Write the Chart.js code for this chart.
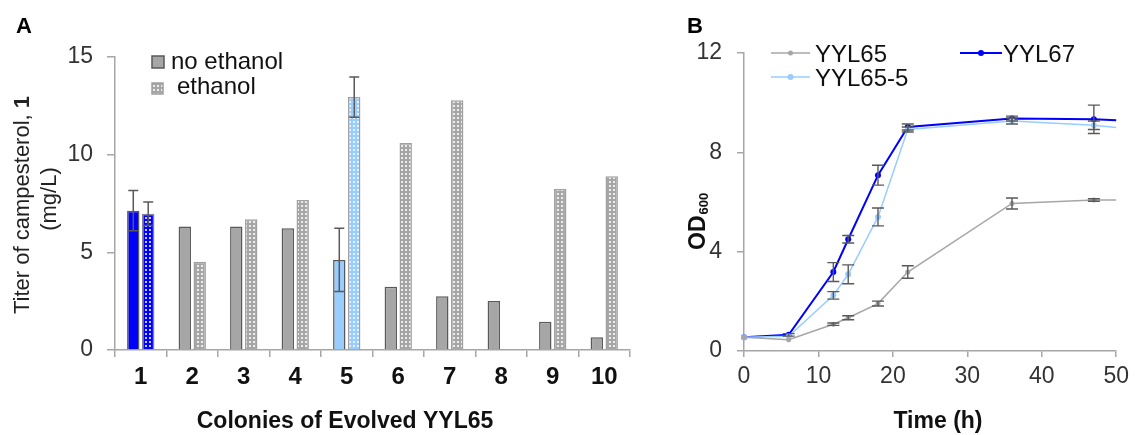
<!DOCTYPE html>
<html><head><meta charset="utf-8">
<script src="https://cdn.jsdelivr.net/npm/chart.js@4.4.1/dist/chart.umd.min.js"></script>
<style>
html,body{margin:0;padding:0;background:#fff;}
#wrap{position:relative;width:1135px;height:435px;overflow:hidden;background:#fff;}
#cA{position:absolute;left:0;top:0;}
#cB{position:absolute;left:660px;top:0;}
</style></head><body>
<div id="wrap"><canvas id="cA" width="660" height="435"></canvas><canvas id="cB" width="475" height="435"></canvas></div>
<script>
// ---------- Panel A data ----------
const colonies = ['1','2','3','4','5','6','7','8','9','10'];
const noEthanol = [7.13, 6.32, 6.32, 6.23, 4.61, 3.24, 2.75, 2.51, 1.45, 0.65];
const ethanol   = [6.98, 4.52, 6.70, 7.68, 12.95, 10.60, 12.78, null, 8.24, 8.90];
const noEthanolErr = [1.03, null, null, null, 1.62, null, null, null, null, null];
const ethanolErr   = [0.60, null, null, null, 1.03, null, null, null, null, null];
const yTicksA = [0, 5, 10, 15];

// ---------- Panel B data ----------
const timeH   = [0, 6, 12, 14, 18, 22, 36, 47, 50];
const yyl65    = [0.55, 0.45, 1.08, 1.34, 1.91, 3.18, 5.94, 6.08, 6.08];
const yyl65Err = [null, null, 0.05, 0.08, 0.10, 0.25, 0.22, 0.05, null];
const yyl67    = [0.55, 0.65, 3.18, 4.50, 7.08, 9.02, 9.36, 9.33, 9.29];
const yyl67Err = [null, 0.05, 0.38, 0.15, 0.40, 0.12, 0.10, 0.57, null];
const yyl655   = [0.55, 0.59, 2.24, 3.09, 5.40, 8.92, 9.26, 9.09, 9.00];
const yyl655Err= [null, null, 0.15, 0.38, 0.36, 0.10, 0.12, 0.17, null];
const yTicksB = [0, 4, 8, 12];
const xTicksB = [0, 10, 20, 30, 40, 50];

const FONT = "'Liberation Sans', Arial, Helvetica, sans-serif";
Chart.defaults.font.family = FONT;
Chart.defaults.color = '#333';

function makePattern(base, dot){
  const c = document.createElement('canvas'); c.width = 4; c.height = 4;
  const g = c.getContext('2d');
  g.fillStyle = base; g.fillRect(0,0,4,4);
  g.fillStyle = dot; g.fillRect(1,1,2,2);
  return g.createPattern(c, 'repeat');
}
const ctxA = document.getElementById('cA').getContext('2d');
const patGray = makePattern('#a6a6a6', '#ececec');
const patBlue = makePattern('#0000ff', '#c8c8ff');
const patLight = makePattern('#99ccff', '#e6f2ff');

const noEthColors = colonies.map((c,i)=> i===0 ? '#0000ff' : (i===4 ? '#99ccff' : '#a6a6a6'));
const ethColors = colonies.map((c,i)=> i===0 ? patBlue : (i===4 ? patLight : patGray));
const noEthBorders = colonies.map((c,i)=> '#595959');
const ethBorders = colonies.map((c,i)=> i===0 ? '#8080a0' : '#a0a0a0');

const errorBars = {
  id: 'errorBars',
  afterDatasetsDraw(chart, args, opts){
    const ctx = chart.ctx;
    ctx.save();
    ctx.strokeStyle = opts.color || '#595959';
    ctx.lineWidth = opts.width || 1.5;
    const cap = opts.cap || 5;
    chart.data.datasets.forEach((ds, i)=>{
      if(!ds.errors) return;
      const meta = chart.getDatasetMeta(i);
      const ys = chart.scales[meta.yAxisID];
      ds.errors.forEach((e, j)=>{
        const raw = ds.data[j];
        const v = (raw !== null && typeof raw === 'object') ? raw.y : raw;
        if(e === null || v === null || v === undefined) return;
        const el = meta.data[j]; if(!el) return;
        const x = el.x;
        const y1 = ys.getPixelForValue(v + e), y2 = ys.getPixelForValue(v - e);
        ctx.beginPath();
        ctx.moveTo(x, y1); ctx.lineTo(x, y2);
        ctx.moveTo(x-cap, y1); ctx.lineTo(x+cap, y1);
        ctx.moveTo(x-cap, y2); ctx.lineTo(x+cap, y2);
        ctx.stroke();
      });
    });
    ctx.restore();
  }
};

const textA = {
  id: 'textA',
  afterDraw(chart){
    const ctx = chart.ctx;
    ctx.save();
    ctx.fillStyle = '#000';
    ctx.textBaseline = 'alphabetic';
    // panel label
    ctx.font = "bold 22px " + FONT; ctx.textAlign = 'left';
    ctx.fillText('A', 16, 33);
    // x title
    ctx.font = "bold 23px " + FONT; ctx.textAlign = 'center';
    ctx.fillStyle = '#111';
    ctx.fillText('Colonies of Evolved YYL65', 345, 428);
    // y title (rotated)
    ctx.fillStyle = '#222';
    const p1 = 'Titer of campesterol, ', p2 = '1';
    ctx.font = "22px " + FONT; const w1 = ctx.measureText(p1).width;
    ctx.font = "bold 22px " + FONT; const w2 = ctx.measureText(p2).width;
    ctx.save();
    ctx.translate(29, 205); ctx.rotate(-Math.PI/2);
    ctx.textAlign = 'left';
    ctx.font = "22px " + FONT; ctx.fillText(p1, -(w1+w2)/2, 0);
    ctx.font = "bold 22px " + FONT; ctx.fillText(p2, -(w1+w2)/2 + w1, 0);
    ctx.restore();
    ctx.save();
    ctx.translate(56, 199); ctx.rotate(-Math.PI/2);
    ctx.textAlign = 'center'; ctx.font = "22px " + FONT;
    ctx.fillText('(mg/L)', 0, 0);
    ctx.restore();
    // legend
    ctx.lineWidth = 1.5;
    ctx.fillStyle = '#a6a6a6'; ctx.strokeStyle = '#595959';
    ctx.fillRect(152, 56, 12, 12); ctx.strokeRect(152, 56, 12, 12);
    ctx.fillStyle = patGray; ctx.strokeStyle = '#a0a0a0';
    ctx.fillRect(152, 83, 11, 11); ctx.strokeRect(152, 83, 11, 11);
    ctx.fillStyle = '#111'; ctx.font = "24px " + FONT; ctx.textAlign = 'left';
    ctx.fillText('no ethanol', 171, 69);
    ctx.fillText('ethanol', 177, 94);
    ctx.restore();
  }
};

new Chart(ctxA, {
  type: 'bar',
  data: {
    labels: colonies,
    datasets: [
      { label: 'no ethanol', data: noEthanol, errors: noEthanolErr, backgroundColor: noEthColors, borderColor: noEthBorders, borderWidth: 1.5 },
      { label: 'ethanol', data: ethanol, errors: ethanolErr, backgroundColor: ethColors, borderColor: ethBorders, borderWidth: 1.5 }
    ]
  },
  options: {
    responsive: false, animation: false, devicePixelRatio: 1,
    layout: { padding: { left: 0, right: 30, top: 57, bottom: 0 } },
    datasets: { bar: { categoryPercentage: 0.58, barPercentage: 0.83 } },
    plugins: { legend: { display: false }, tooltip: { enabled: false },
      errorBars: { color: '#595959', width: 1.5, cap: 5 } },
    scales: {
      x: {
        grid: { display: true, drawOnChartArea: false, offset: true, tickLength: 7, color: '#a6a6a6', lineWidth: 1.5 },
        border: { color: '#a6a6a6', width: 1.5 },
        ticks: { font: { size: 24, weight: 'bold' }, color: '#111', padding: 6 },
        afterFit(s){ s.height = 85; }
      },
      y: {
        min: 0, max: 15,
        afterBuildTicks(s){ s.ticks = yTicksA.map(v=>({value:v})); },
        grid: { display: true, drawOnChartArea: false, tickLength: 8, color: '#a6a6a6', lineWidth: 1.5 },
        border: { color: '#a6a6a6', width: 1.5 },
        ticks: { font: { size: 23 }, color: '#333', padding: 14 },
        afterFit(s){ s.width = 115; }
      }
    }
  },
  plugins: [errorBars, textA]
});

// ---------- Panel B ----------
const ctxB = document.getElementById('cB').getContext('2d');
function pts(ys){ return timeH.map((t,i)=>({x:t, y:ys[i]})); }
const radii = (r)=> timeH.map((t,i)=> i === timeH.length-1 ? 0 : r);

const textB = {
  id: 'textB',
  afterDraw(chart){
    const ctx = chart.ctx;
    ctx.save();
    ctx.fillStyle = '#000'; ctx.textBaseline = 'alphabetic';
    ctx.font = "bold 22px " + FONT; ctx.textAlign = 'left';
    ctx.fillText('B', 27, 33);
    ctx.font = "bold 23px " + FONT; ctx.textAlign = 'center';
    ctx.fillStyle = '#111';
    ctx.fillText('Time (h)', 278, 428);
    // OD600 rotated
    ctx.save();
    ctx.translate(45, 250); ctx.rotate(-Math.PI/2);
    ctx.textAlign = 'left';
    ctx.font = "bold 23px " + FONT; ctx.fillText('OD', 0, 0);
    const wOD = ctx.measureText('OD').width;
    ctx.font = "bold 13px " + FONT; ctx.fillText('600', wOD + 1, 3);
    ctx.restore();
    // legend
    const items = [
      {label:'YYL65', color:'#a6a6a6', lw:1.5, r:2.5, x1:111, x2:150, y:53, tx:155},
      {label:'YYL67', color:'#0000ff', lw:2, r:3, x1:300, x2:342, y:53, tx:343},
      {label:'YYL65-5', color:'#99ccff', lw:1.5, r:3, x1:111, x2:150, y:77, tx:155}
    ];
    items.forEach(it=>{
      ctx.strokeStyle = it.color; ctx.lineWidth = it.lw;
      ctx.beginPath(); ctx.moveTo(it.x1, it.y); ctx.lineTo(it.x2, it.y); ctx.stroke();
      ctx.fillStyle = it.color;
      ctx.beginPath(); ctx.arc((it.x1+it.x2)/2, it.y, it.r, 0, Math.PI*2); ctx.fill();
      ctx.fillStyle = '#111'; ctx.font = "24px " + FONT; ctx.textAlign = 'left';
      ctx.fillText(it.label, it.tx, it.y + 9);
    });
    ctx.restore();
  }
};

new Chart(ctxB, {
  type: 'line',
  data: {
    datasets: [
      { label: 'YYL65', data: pts(yyl65), errors: yyl65Err, borderColor: '#a6a6a6', backgroundColor: '#a6a6a6', borderWidth: 1.5, pointRadius: radii(2.5), pointBorderWidth: 0, tension: 0, clip: false },
      { label: 'YYL65-5', data: pts(yyl655), errors: yyl655Err, borderColor: '#99ccff', backgroundColor: '#99ccff', borderWidth: 1.5, pointRadius: radii(3), pointBorderWidth: 0, tension: 0, clip: false },
      { label: 'YYL67', data: pts(yyl67), errors: yyl67Err, borderColor: '#0000ff', backgroundColor: '#0000ff', borderWidth: 2, pointRadius: radii(3), pointBorderWidth: 0, tension: 0, clip: false }
    ]
  },
  options: {
    responsive: false, animation: false, devicePixelRatio: 1,
    layout: { padding: { left: 0, right: 17, top: 53, bottom: 0 } },
    plugins: { legend: { display: false }, tooltip: { enabled: false },
      errorBars: { color: '#595959', width: 1.4, cap: 6 } },
    scales: {
      x: {
        type: 'linear', min: 0, max: 50,
        afterBuildTicks(s){ s.ticks = xTicksB.map(v=>({value:v})); },
        grid: { display: true, drawOnChartArea: false, tickLength: 6, color: '#a6a6a6', lineWidth: 1.5 },
        border: { color: '#a6a6a6', width: 1.5 },
        ticks: { font: { size: 23 }, color: '#333', padding: 6 },
        afterFit(s){ s.height = 84; }
      },
      y: {
        type: 'linear', min: 0, max: 12,
        afterBuildTicks(s){ s.ticks = yTicksB.map(v=>({value:v})); },
        grid: { display: true, drawOnChartArea: false, tickLength: 7, color: '#a6a6a6', lineWidth: 1.5 },
        border: { color: '#a6a6a6', width: 1.5 },
        ticks: { font: { size: 23 }, color: '#333', padding: 15 },
        afterFit(s){ s.width = 84; }
      }
    }
  },
  plugins: [errorBars, textB]
});
</script>
</body></html>
